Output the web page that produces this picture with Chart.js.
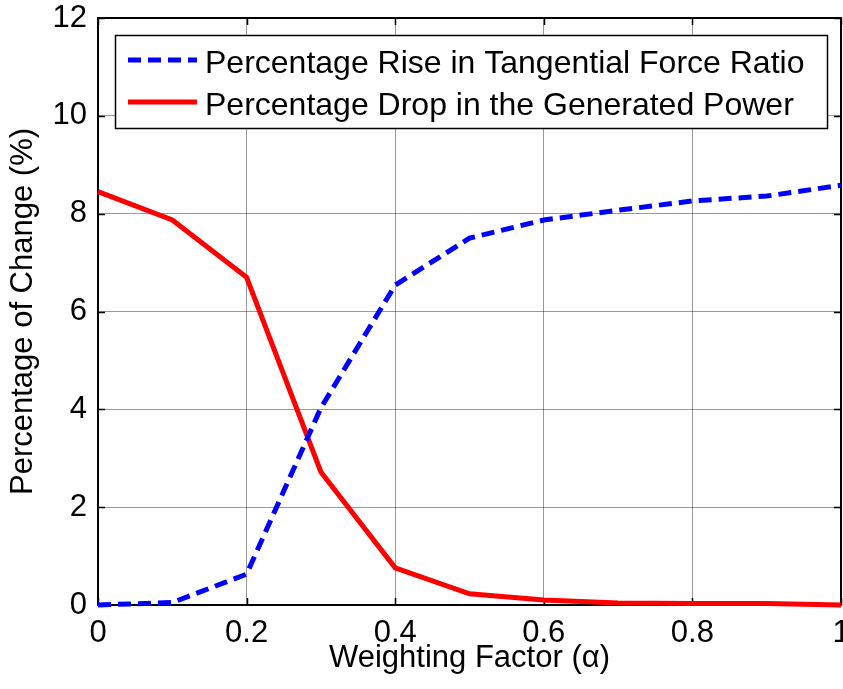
<!DOCTYPE html>
<html lang="en">
  <head>
    <meta charset="UTF-8" />
    <title>Percentage of Change vs Weighting Factor</title>
    <style>
      html, body { margin: 0; padding: 0; background: #fff; }
      #wrap { width: 843px; height: 689px; }
    </style>
  </head>
  <body>
    <div id="wrap"><canvas id="myChart" width="843" height="689"></canvas></div>

    <script src="https://cdn.jsdelivr.net/npm/chart.js@4/dist/chart.umd.min.js"></script>

    <!--Chart data-->
    <script>
      var alphaValues = [0, 0.1, 0.2, 0.3, 0.4, 0.5, 0.6, 0.7, 0.8, 0.9, 1.0];
      var riseValues = [0, 0.05, 0.63, 4.03, 6.54, 7.5, 7.87, 8.07, 8.26, 8.36, 8.58];
      var dropValues = [8.45, 7.87, 6.7, 2.72, 0.76, 0.23, 0.1, 0.04, 0.03, 0.03, 0];
      var seriesLabels = [
        "Percentage Rise in Tangential Force Ratio",
        "Percentage Drop in the Generated Power",
      ];
      var xTicks = [0, 0.2, 0.4, 0.6, 0.8, 1];
      var yTicks = [0, 2, 4, 6, 8, 10, 12];
    </script>

    <script>
      var FONT = "'Liberation Sans', Arial, sans-serif";

      function toPoints(ys) {
        return alphaValues.map(function (x, i) {
          return { x: x, y: ys[i] };
        });
      }

      // black box round the plot with inward ticks, like MATLAB axes
      var axesBox = {
        id: "axesBox",
        beforeDatasetsDraw: function (chart) {
          var ctx = chart.ctx;
          var a = chart.chartArea;
          var xs = chart.scales.x;
          var ys = chart.scales.y;
          ctx.save();
          ctx.strokeStyle = "#000";
          ctx.lineWidth = 2;
          ctx.strokeRect(a.left, a.top, a.right - a.left, a.bottom - a.top);
          ctx.lineWidth = 1.5;
          ctx.beginPath();
          xTicks.forEach(function (v) {
            var px = Math.round(xs.getPixelForValue(v)) + 0.5;
            ctx.moveTo(px, a.bottom);
            ctx.lineTo(px, a.bottom - 7);
            ctx.moveTo(px, a.top);
            ctx.lineTo(px, a.top + 7);
          });
          yTicks.forEach(function (v) {
            var py = Math.round(ys.getPixelForValue(v)) + 0.5;
            ctx.moveTo(a.left, py);
            ctx.lineTo(a.left + 7, py);
            ctx.moveTo(a.right, py);
            ctx.lineTo(a.right - 7, py);
          });
          ctx.stroke();
          ctx.restore();
        },
      };

      // boxed legend inside the plot, top left
      var boxLegend = {
        id: "boxLegend",
        afterDatasetsDraw: function (chart) {
          var ctx = chart.ctx;
          var bx = 115, by = 35, bw = 712, bh = 93;
          ctx.save();
          ctx.fillStyle = "#fff";
          ctx.fillRect(bx, by, bw, bh);
          ctx.strokeStyle = "#000";
          ctx.lineWidth = 1.5;
          ctx.strokeRect(bx + 0.5, by + 0.5, bw, bh);
          chart.data.datasets.forEach(function (ds, i) {
            var y = 60 + i * 42;
            ctx.strokeStyle = ds.borderColor;
            ctx.lineWidth = ds.borderWidth;
            ctx.setLineDash(ds.borderDash || []);
            ctx.beginPath();
            ctx.moveTo(128, y);
            ctx.lineTo(197, y);
            ctx.stroke();
            ctx.setLineDash([]);
            ctx.fillStyle = "#000";
            ctx.font = "32px " + FONT;
            ctx.textBaseline = "middle";
            ctx.fillText(ds.label, 205, y + 4);
          });
          ctx.restore();
        },
      };

      function createChart() {
        var ctx = document.getElementById("myChart").getContext("2d");
        new Chart(ctx, {
          type: "line",
          data: {
            datasets: [
              {
                label: seriesLabels[0],
                data: toPoints(riseValues),
                borderColor: "#0000ff",
                borderWidth: 5,
                borderDash: [13, 7],
                pointRadius: 0,
                tension: 0,
                clip: 4,
              },
              {
                label: seriesLabels[1],
                data: toPoints(dropValues),
                borderColor: "#ff0000",
                borderWidth: 5,
                pointRadius: 0,
                tension: 0,
                clip: 4,
              },
            ],
          },
          options: {
            responsive: false,
            animation: false,
            layout: { padding: { top: 18, right: 2, left: 0, bottom: 0 } },
            plugins: {
              legend: { display: false },
              tooltip: { enabled: false },
            },
            scales: {
              x: {
                type: "linear",
                min: 0,
                max: 1,
                afterFit: function (s) {
                  s.height = 84;
                  s.paddingLeft = 0;
                  s.paddingRight = 0;
                },
                afterBuildTicks: function (s) {
                  s.ticks = xTicks.map(function (v) { return { value: v }; });
                },
                ticks: {
                  color: "#000",
                  font: { family: FONT, size: 31 },
                  padding: 10,
                  maxRotation: 0,
                  autoSkip: false,
                  callback: function (v) { return String(v); },
                },
                grid: { color: "rgba(0,0,0,0.4)", lineWidth: 1, drawTicks: false },
                border: { display: false },
                title: {
                  display: true,
                  text: "Weighting Factor (\u03b1)",
                  color: "#000",
                  font: { family: FONT, size: 31 },
                  padding: { top: 0, bottom: 12 },
                },
              },
              y: {
                type: "linear",
                min: 0,
                max: 12,
                afterFit: function (s) {
                  s.width = 98;
                  s.paddingTop = 0;
                  s.paddingBottom = 0;
                },
                afterBuildTicks: function (s) {
                  s.ticks = yTicks.map(function (v) { return { value: v }; });
                },
                ticks: {
                  color: "#000",
                  font: { family: FONT, size: 31 },
                  padding: 11,
                  autoSkip: false,
                },
                grid: { color: "rgba(0,0,0,0.4)", lineWidth: 1, drawTicks: false },
                border: { display: false },
                title: {
                  display: true,
                  text: "Percentage of Change (%)",
                  color: "#000",
                  font: { family: FONT, size: 31 },
                  padding: { top: 5, bottom: 0 },
                },
              },
            },
          },
          plugins: [axesBox, boxLegend],
        });
      }
      createChart();
    </script>
  </body>
</html>
